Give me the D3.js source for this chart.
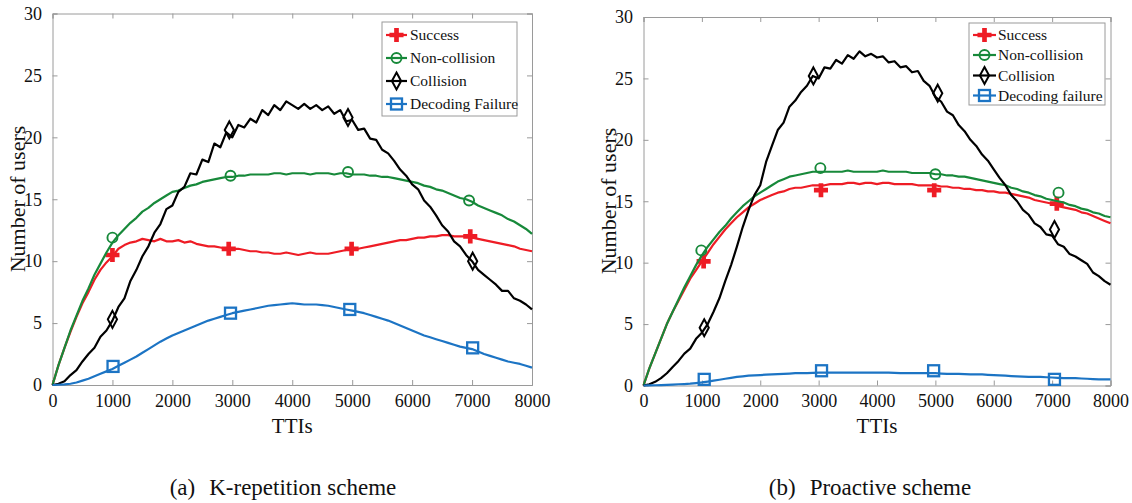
<!DOCTYPE html>
<html><head><meta charset="utf-8">
<script src="https://cdn.jsdelivr.net/npm/d3@7"></script>
<style>body{margin:0;background:#fff}svg{display:block}</style>
</head><body>
<svg id="c" width="1132" height="503"></svg>
<script>
// ---------- data ----------
const ttis = [0,100,200,300,400,500,600,700,800,900,
  1000,1100,1200,1300,1400,1500,1600,1700,1800,1900,
  2000,2100,2200,2300,2400,2500,2600,2700,2800,2900,
  3000,3100,3200,3300,3400,3500,3600,3700,3800,3900,
  4000,4100,4200,4300,4400,4500,4600,4700,4800,4900,
  5000,5100,5200,5300,5400,5500,5600,5700,5800,5900,
  6000,6100,6200,6300,6400,6500,6600,6700,6800,6900,
  7000,7100,7200,7300,7400,7500,7600,7700,7800,7900,
  8000];
const xTicks = [0,1000,2000,3000,4000,5000,6000,7000,8000];
const yTicks = [0,5,10,15,20,25,30];
const namesA = ["Success","Non-collision","Collision","Decoding Failure"];
const namesB = ["Success","Non-collision","Collision","Decoding failure"];
const captionA = ["(a)","K-repetition scheme"];
const captionB = ["(b)","Proactive scheme"];
const xLabel = "TTIs";
const yLabel = "Number of users";

// (a) K-repetition
const aSuccess = [0,1.6,3.0,4.3,5.5,6.6,7.5,8.5,9.3,9.9,
  10.4,11.0,11.3,11.5,11.6,11.8,11.7,11.6,11.8,11.6,
  11.6,11.7,11.5,11.6,11.4,11.3,11.2,11.2,11.1,11.0,
  11.0,11.0,10.9,10.8,10.8,10.7,10.7,10.6,10.6,10.7,
  10.6,10.5,10.6,10.7,10.6,10.6,10.6,10.7,10.8,10.9,
  11.0,11.0,11.1,11.2,11.3,11.4,11.5,11.6,11.7,11.7,
  11.8,11.9,11.9,12.0,12.0,12.1,12.1,12.0,12.0,12.0,
  11.9,11.8,11.7,11.6,11.5,11.4,11.3,11.2,11.0,10.9,
  10.8];
const aNonCollision = [0,1.6,3.0,4.4,5.6,6.8,7.8,8.9,9.8,10.7,
  11.5,12.1,12.6,13.1,13.5,14.0,14.3,14.7,15.0,15.3,
  15.6,15.7,15.9,16.1,16.2,16.4,16.5,16.6,16.7,16.8,
  16.8,16.9,16.9,17.0,17.0,17.0,17.0,17.1,17.1,17.0,
  17.1,17.1,17.1,17.0,17.1,17.1,17.1,17.0,17.1,17.1,
  17.0,17.0,17.0,16.9,16.9,16.8,16.8,16.7,16.6,16.5,
  16.4,16.3,16.1,16.0,15.8,15.7,15.5,15.3,15.1,15.0,
  14.8,14.5,14.3,14.1,13.9,13.7,13.4,13.2,12.9,12.6,
  12.2];
const aCollision = [0,0.1,0.3,0.8,1.2,1.9,2.5,3.0,3.9,4.4,
  5.2,6.3,7.0,8.4,9.3,10.4,11.2,12.3,13.0,14.2,
  14.5,15.6,16.0,17.1,17.0,18.2,18.0,19.5,19.2,20.4,
  20.0,21.0,20.8,21.5,21.2,22.2,21.8,22.6,22.2,22.9,
  22.6,22.3,22.7,22.3,22.6,22.2,22.5,21.9,22.2,21.3,
  21.4,20.6,20.7,19.9,19.8,19.0,18.7,18.1,17.4,16.9,
  16.2,15.8,14.9,14.4,13.7,12.9,12.4,11.6,11.2,10.5,
  10.0,9.3,8.9,8.5,8.1,7.6,7.6,7.0,6.8,6.5,
  6.1];
const aDecoding = [0,0.02,0.05,0.1,0.2,0.35,0.5,0.7,0.9,1.1,
  1.3,1.55,1.8,2.05,2.3,2.6,2.9,3.2,3.5,3.75,
  4.0,4.2,4.4,4.6,4.8,5.0,5.2,5.35,5.5,5.65,
  5.8,5.9,6.0,6.1,6.2,6.3,6.4,6.45,6.5,6.55,
  6.6,6.55,6.5,6.5,6.5,6.45,6.4,6.3,6.2,6.1,
  6.0,5.9,5.8,5.65,5.5,5.35,5.2,5.0,4.8,4.6,
  4.4,4.2,4.0,3.85,3.7,3.55,3.4,3.25,3.1,3.0,
  2.9,2.7,2.5,2.35,2.2,2.05,1.9,1.8,1.7,1.55,
  1.4];
const aSuccessMarks      = [[1000,10.5],[2940,11.0],[4990,11.0],[6970,12.0]];
const aNonCollisionMarks = [[1000,11.9],[2970,16.9],[4930,17.2],[6950,14.9]];
const aCollisionMarks    = [[1000,5.3],[2950,20.6],[4930,21.6],[7010,10.0]];
const aDecodingMarks     = [[1010,1.5],[2970,5.8],[4960,6.1],[7010,3.0]];

// (b) Proactive
const bSuccess = [0,1.4,2.6,3.8,5.0,6.0,6.9,7.8,8.7,9.4,
  10.1,10.8,11.5,12.1,12.7,13.2,13.7,14.1,14.5,14.8,
  15.1,15.3,15.5,15.7,15.8,16.0,16.1,16.1,16.2,16.3,
  16.3,16.3,16.4,16.4,16.4,16.5,16.5,16.4,16.5,16.5,
  16.4,16.5,16.5,16.4,16.4,16.4,16.4,16.3,16.3,16.3,
  16.3,16.2,16.2,16.1,16.1,16.0,16.0,15.9,15.9,15.8,
  15.8,15.7,15.7,15.6,15.5,15.4,15.3,15.1,15.0,14.9,
  14.8,14.6,14.5,14.4,14.3,14.1,14.0,13.8,13.6,13.4,
  13.2];
const bNonCollision = [0,1.4,2.6,3.8,5.0,6.0,7.0,8.0,8.9,9.8,
  10.6,11.3,11.9,12.5,13.0,13.6,14.1,14.6,15.0,15.4,
  15.7,16.0,16.3,16.6,16.8,17.0,17.1,17.2,17.3,17.4,
  17.4,17.4,17.4,17.4,17.4,17.5,17.4,17.4,17.4,17.4,
  17.4,17.5,17.4,17.4,17.4,17.4,17.3,17.3,17.3,17.3,
  17.2,17.2,17.1,17.1,17.0,17.0,16.9,16.8,16.7,16.6,
  16.5,16.4,16.3,16.1,16.0,15.8,15.7,15.5,15.4,15.2,
  15.1,15.0,14.9,14.7,14.6,14.4,14.3,14.1,14.0,13.8,
  13.7];
const bCollision = [0,0.1,0.3,0.6,1.0,1.5,2.0,2.6,3.0,3.8,
  4.3,5.0,6.0,7.1,8.5,9.8,11.3,12.9,14.3,15.5,
  16.3,18.2,19.5,20.8,21.4,22.7,23.2,23.9,24.4,25.2,
  25.0,25.9,25.8,26.5,26.2,26.9,26.6,27.2,26.8,27.0,
  26.7,26.8,26.3,26.4,25.9,26.0,25.5,25.6,24.8,24.4,
  23.5,23.1,22.3,22.0,21.2,20.7,20.0,19.5,18.8,18.3,
  17.6,16.9,16.3,15.5,15.0,14.3,13.9,13.2,12.9,12.3,
  12.2,11.5,11.3,10.7,10.5,10.2,9.9,9.2,8.9,8.5,
  8.2];
const bDecoding = [0,0.01,0.02,0.03,0.05,0.07,0.1,0.12,0.15,0.2,
  0.25,0.32,0.4,0.47,0.55,0.62,0.7,0.75,0.8,0.83,
  0.85,0.88,0.9,0.93,0.95,0.97,1.0,1.0,1.0,1.02,
  1.05,1.05,1.05,1.05,1.05,1.05,1.05,1.05,1.05,1.05,
  1.05,1.05,1.05,1.02,1.0,1.0,1.0,1.0,1.0,1.0,
  1.0,0.97,0.95,0.95,0.95,0.92,0.9,0.9,0.9,0.87,
  0.85,0.82,0.8,0.77,0.75,0.72,0.7,0.7,0.7,0.67,
  0.65,0.62,0.6,0.6,0.6,0.57,0.55,0.52,0.5,0.5,
  0.5];
const bSuccessMarks      = [[1030,10.1],[3040,15.9],[4980,15.9],[7080,14.8]];
const bNonCollisionMarks = [[990,11.0],[3030,17.7],[5000,17.2],[7110,15.7]];
const bCollisionMarks    = [[1040,4.7],[2910,25.2],[5040,23.8],[7040,12.7]];
const bDecodingMarks     = [[1040,0.5],[3050,1.2],[4970,1.2],[7040,0.5]];

// ---------- styling / layout ----------
const colors = ["#ee1c25","#17893a","#000000","#1c74c4"];
const markerTypes = ["plus","circle","diamond","square"];
const FONT = "Liberation Serif, Times New Roman, serif";

const panels = [
  {x0:52.5, x1:532, y0:13.5, y1:385,
   series:[aSuccess,aNonCollision,aCollision,aDecoding],
   marks:[aSuccessMarks,aNonCollisionMarks,aCollisionMarks,aDecodingMarks],
   names:namesA, caption:captionA, capX:283,
   legend:{x:382,y:22,w:135,h:94,rows:[35,58,81,104],lx0:386,lx1:407,tx:410},
   ylabX:25, ylabY:199},
  {x0:643.5, x1:1110.5, y0:17, y1:385.5,
   series:[bSuccess,bNonCollision,bCollision,bDecoding],
   marks:[bSuccessMarks,bNonCollisionMarks,bCollisionMarks,bDecodingMarks],
   names:namesB, caption:captionB, capX:870,
   legend:{x:969,y:23,w:136,h:82,rows:[35,55,75.5,95.5],lx0:973,lx1:996,tx:998},
   ylabX:615.5, ylabY:201}
];

const svg = d3.select("#c");
const axisGrey = "#9a9a9a";

function drawMarker(g, type, color, cx, cy) {
  if (type === "plus") {
    g.append("path").attr("d", d3.symbol().type(d3.symbolCross).size(110)())
      .attr("transform", `translate(${cx},${cy})`).attr("fill", color);
  } else if (type === "circle") {
    g.append("circle").attr("cx", cx).attr("cy", cy).attr("r", 5)
      .attr("fill", "none").attr("stroke", color).attr("stroke-width", 1.9);
  } else if (type === "diamond") {
    g.append("path").attr("d", `M${cx},${cy-8.5}L${cx+4.6},${cy}L${cx},${cy+8.5}L${cx-4.6},${cy}Z`)
      .attr("fill", "none").attr("stroke", color).attr("stroke-width", 2);
  } else {
    g.append("rect").attr("x", cx-5.5).attr("y", cy-5.5).attr("width", 11).attr("height", 11)
      .attr("fill", "none").attr("stroke", color).attr("stroke-width", 2.3);
  }
}

panels.forEach(p => {
  const x = d3.scaleLinear().domain([0, 8000]).range([p.x0, p.x1]);
  const y = d3.scaleLinear().domain([0, 30]).range([p.y1, p.y0]);
  const g = svg.append("g");

  const tickLen = 5;
  const axB = g.append("g").attr("transform", `translate(0,${p.y1})`)
    .call(d3.axisBottom(x).tickValues(xTicks).tickSize(-tickLen).tickPadding(tickLen + 6).tickFormat(d3.format("d")));
  const axT = g.append("g").attr("transform", `translate(0,${p.y0})`)
    .call(d3.axisTop(x).tickValues(xTicks).tickSize(-tickLen).tickFormat(""));
  const axL = g.append("g").attr("transform", `translate(${p.x0},0)`)
    .call(d3.axisLeft(y).tickValues(yTicks).tickSize(-tickLen).tickPadding(tickLen + 5.5));
  const axR = g.append("g").attr("transform", `translate(${p.x1},0)`)
    .call(d3.axisRight(y).tickValues(yTicks).tickSize(-tickLen).tickFormat(""));
  [axB, axT, axL, axR].forEach(a => {
    a.attr("font-family", FONT).attr("font-size", 18);
    a.select(".domain").attr("stroke", axisGrey).attr("stroke-width", 1);
    a.selectAll(".tick line").attr("stroke", axisGrey);
    a.selectAll(".tick text").attr("fill", "#111");
  });
  axB.selectAll(".tick text").attr("dy", "0.71em").attr("y", 9);

  const line = d3.line().x((d, i) => x(ttis[i])).y(d => y(d));
  p.series.forEach((s, k) => {
    g.append("path").datum(s).attr("d", line).attr("fill", "none")
      .attr("stroke", colors[k]).attr("stroke-width", 2.2)
      .attr("stroke-linejoin", "round");
    p.marks[k].forEach(m => drawMarker(g, markerTypes[k], colors[k], x(m[0]), y(m[1])));
  });

  const L = p.legend;
  g.append("rect").attr("x", L.x).attr("y", L.y).attr("width", L.w).attr("height", L.h)
    .attr("fill", "#fff").attr("stroke", axisGrey).attr("stroke-width", 1);
  p.names.forEach((n, k) => {
    const ry = L.rows[k];
    g.append("line").attr("x1", L.lx0).attr("x2", L.lx1).attr("y1", ry).attr("y2", ry)
      .attr("stroke", colors[k]).attr("stroke-width", 2.2);
    drawMarker(g, markerTypes[k], colors[k], (L.lx0 + L.lx1) / 2, ry);
    g.append("text").attr("x", L.tx).attr("y", ry).attr("dy", "0.35em")
      .attr("font-family", FONT).attr("font-size", 15.5).attr("fill", "#111").text(n);
  });

  g.append("text").attr("x", (p.x0 + p.x1) / 2).attr("y", 433).attr("text-anchor", "middle")
    .attr("font-family", FONT).attr("font-size", 21).attr("fill", "#111").text(xLabel);
  g.append("text").attr("transform", `translate(${p.ylabX},${p.ylabY}) rotate(-90)`)
    .attr("text-anchor", "middle")
    .attr("font-family", FONT).attr("font-size", 22).attr("fill", "#111").text(yLabel);

  const cap = g.append("text").attr("x", p.capX).attr("y", 495).attr("text-anchor", "middle")
    .attr("font-family", FONT).attr("font-size", 23).attr("fill", "#111");
  cap.append("tspan").text(p.caption[0]);
  cap.append("tspan").attr("dx", 14).text(p.caption[1]);
});
</script>
</body></html>
